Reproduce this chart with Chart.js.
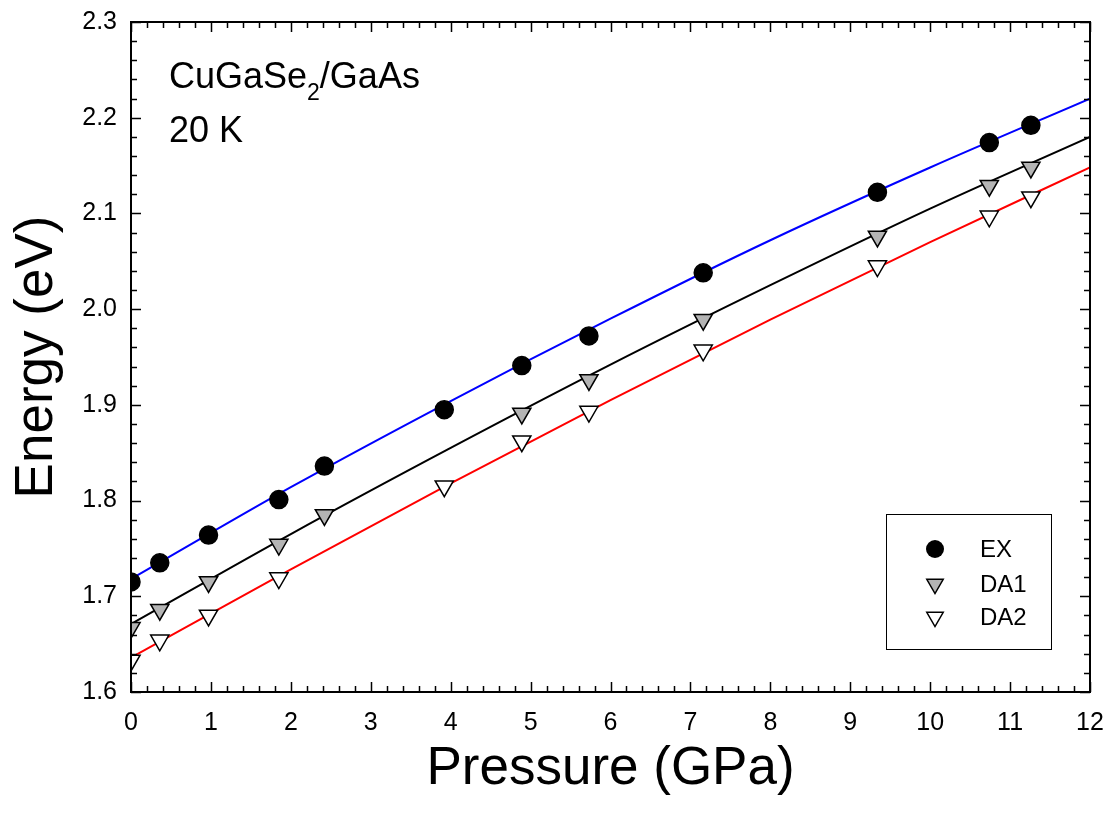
<!DOCTYPE html>
<html lang="en">
<head>
    <meta charset="UTF-8">
    <title>CuGaSe2/GaAs - Energy vs Pressure</title>
    <script src="https://cdn.jsdelivr.net/npm/chart.js"></script>
    <style>
        body {
            margin: 0;
            padding: 0;
            background-color: white;
        }
        #chart {
            display: block;
        }
    </style>
</head>
<body>
    <canvas id="chart" width="1112" height="825"></canvas>

    <script>
        // measured points (GPa, eV)
        const pressEX = [0, 0.36, 0.97, 1.85, 2.42, 3.92, 4.89, 5.73, 7.16, 9.34, 10.74, 11.26];
        const energyEX = [1.715, 1.735, 1.764, 1.801, 1.836, 1.895, 1.941, 1.972, 2.038, 2.122, 2.174, 2.192];

        const pressDA1 = [0, 0.36, 0.97, 1.85, 2.42, 4.89, 5.73, 7.16, 9.34, 10.74, 11.26];
        const energyDA1 = [1.667, 1.686, 1.715, 1.754, 1.785, 1.891, 1.926, 1.989, 2.076, 2.129, 2.148];

        const pressDA2 = [0, 0.36, 0.97, 1.85, 3.92, 4.89, 5.73, 7.16, 9.34, 10.74, 11.26];
        const energyDA2 = [1.633, 1.654, 1.680, 1.719, 1.815, 1.862, 1.893, 1.957, 2.045, 2.097, 2.117];

        // fit curves
        const fitPress = [0, 2, 4, 6, 8, 10, 12];
        const fitEX = [1.718, 1.814, 1.904, 1.990, 2.072, 2.148, 2.220];
        const fitDA1 = [1.671, 1.765, 1.855, 1.942, 2.025, 2.105, 2.180];
        const fitDA2 = [1.636, 1.728, 1.818, 1.905, 1.989, 2.070, 2.148];

        const seriesNames = ["EX", "DA1", "DA2"];

        const FONT = "'Liberation Sans', Arial, sans-serif";

        function toPoints(xs, ys) {
            return xs.map((x, i) => ({ x: x, y: ys[i] }));
        }

        function fitLine(xs, ys, color) {
            return {
                data: toPoints(xs, ys),
                showLine: true,
                borderColor: color,
                borderWidth: 2,
                pointRadius: 0,
                cubicInterpolationMode: "monotone",
                fill: false,
                order: 2
            };
        }

        function markers(xs, ys, style, fillColor, radius) {
            return {
                label: "",
                data: toPoints(xs, ys),
                showLine: false,
                pointStyle: style,
                rotation: style === "triangle" ? 180 : 0,
                pointRadius: radius,
                pointBackgroundColor: fillColor,
                pointBorderColor: "black",
                pointBorderWidth: 1.5,
                order: 1
            };
        }

        // frame with inward ticks, annotations and legend box
        const framePlugin = {
            id: "frame",
            afterDraw(chart) {
                const ctx = chart.ctx;
                const area = chart.chartArea;
                const xs = chart.scales.x;
                const ys = chart.scales.y;

                ctx.save();
                ctx.strokeStyle = "black";
                ctx.lineWidth = 2;
                ctx.strokeRect(area.left, area.top, area.right - area.left, area.bottom - area.top);

                ctx.lineWidth = 1.5;
                ctx.beginPath();
                for (let i = 0; i <= 60; i++) {
                    const px = Math.round(xs.getPixelForValue(i * 0.2)) + 0.5;
                    const len = i % 5 === 0 ? 10 : 6;
                    ctx.moveTo(px, area.bottom);
                    ctx.lineTo(px, area.bottom - len);
                    ctx.moveTo(px, area.top);
                    ctx.lineTo(px, area.top + len);
                }
                for (let i = 0; i <= 35; i++) {
                    const py = Math.round(ys.getPixelForValue(1.6 + i * 0.02)) + 0.5;
                    const len = i % 5 === 0 ? 10 : 6;
                    ctx.moveTo(area.left, py);
                    ctx.lineTo(area.left + len, py);
                    ctx.moveTo(area.right, py);
                    ctx.lineTo(area.right - len, py);
                }
                ctx.stroke();

                // sample label
                ctx.fillStyle = "black";
                ctx.textAlign = "left";
                ctx.textBaseline = "alphabetic";
                ctx.font = "36px " + FONT;
                const tx = area.left + 38;
                ctx.fillText("CuGaSe", tx, area.top + 66);
                let w = ctx.measureText("CuGaSe").width;
                ctx.font = "23px " + FONT;
                ctx.fillText("2", tx + w, area.top + 78);
                w += ctx.measureText("2").width;
                ctx.font = "36px " + FONT;
                ctx.fillText("/GaAs", tx + w, area.top + 66);
                ctx.fillText("20 K", tx, area.top + 120);

                // legend
                const lx = area.right - 204;
                const ly = area.top + 492;
                ctx.lineWidth = 1;
                ctx.strokeRect(lx + 0.5, ly + 0.5, 165, 135);
                const rows = [35, 70, 103];
                ctx.font = "24px " + FONT;
                ctx.textBaseline = "middle";
                seriesNames.forEach((name, i) => {
                    const cy = ly + rows[i];
                    const cx = lx + 49;
                    ctx.beginPath();
                    if (i === 0) {
                        ctx.arc(cx, cy, 9, 0, Math.PI * 2);
                        ctx.fillStyle = "black";
                        ctx.fill();
                    } else {
                        const r = 9.5;
                        ctx.moveTo(cx - r * 0.866, cy - r * 0.5);
                        ctx.lineTo(cx + r * 0.866, cy - r * 0.5);
                        ctx.lineTo(cx, cy + r);
                        ctx.closePath();
                        ctx.fillStyle = i === 1 ? "#b4b4b4" : "white";
                        ctx.fill();
                        ctx.lineWidth = 1.5;
                        ctx.strokeStyle = "black";
                        ctx.stroke();
                    }
                    ctx.fillStyle = "black";
                    ctx.fillText(name, lx + 94, cy + 1);
                });
                ctx.restore();
            }
        };

        new Chart(document.getElementById("chart").getContext("2d"), {
            type: "scatter",
            data: {
                datasets: [
                    fitLine(fitPress, fitEX, "#0000ff"),
                    fitLine(fitPress, fitDA1, "#000000"),
                    fitLine(fitPress, fitDA2, "#ff0000"),
                    markers(pressEX, energyEX, "circle", "black", 9),
                    markers(pressDA1, energyDA1, "triangle", "#b4b4b4", 10.5),
                    markers(pressDA2, energyDA2, "triangle", "white", 10.5)
                ]
            },
            options: {
                responsive: false,
                animation: false,
                devicePixelRatio: 1,
                layout: { padding: { top: 22, right: 22, left: 0, bottom: 0 } },
                plugins: {
                    legend: { display: false },
                    tooltip: { enabled: false }
                },
                scales: {
                    x: {
                        type: "linear",
                        min: 0,
                        max: 12,
                        grid: { display: false, drawTicks: false },
                        border: { display: false },
                        ticks: {
                            stepSize: 1,
                            padding: 16,
                            color: "black",
                            font: { family: FONT, size: 25 }
                        },
                        title: {
                            display: true,
                            text: "Pressure (GPa)",
                            color: "black",
                            font: { family: FONT, size: 53 },
                            padding: { top: 0, bottom: 24 }
                        },
                        afterFit(scale) {
                            scale.height = 133;
                            scale.paddingLeft = 0;
                            scale.paddingRight = 0;
                        }
                    },
                    y: {
                        type: "linear",
                        min: 1.6,
                        max: 2.3,
                        grid: { display: false, drawTicks: false },
                        border: { display: false },
                        ticks: {
                            stepSize: 0.1,
                            padding: 14,
                            color: "black",
                            font: { family: FONT, size: 25 },
                            callback: v => v.toFixed(1)
                        },
                        title: {
                            display: true,
                            text: "Energy (eV)",
                            color: "black",
                            font: { family: FONT, size: 53 },
                            padding: { top: 6, bottom: 0 }
                        },
                        afterFit(scale) {
                            scale.width = 131;
                            scale.paddingTop = 0;
                            scale.paddingBottom = 0;
                        }
                    }
                }
            },
            plugins: [framePlugin]
        });
    </script>
</body>
</html>
